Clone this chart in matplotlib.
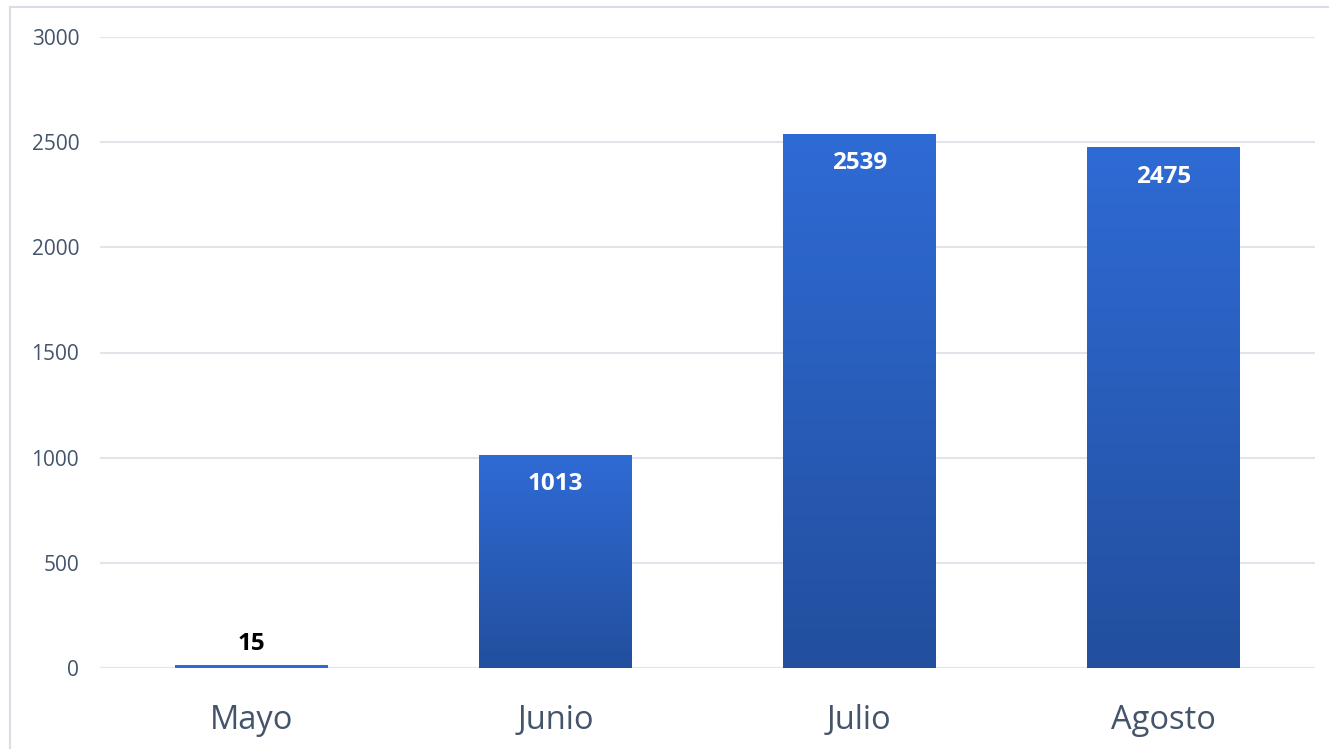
import numpy as np
import matplotlib.pyplot as plt
from matplotlib.patches import Rectangle
from matplotlib.colors import LinearSegmentedColormap

plt.rcParams["font.family"] = ["Open Sans", "DejaVu Sans"]

# data
months = ["Mayo", "Junio", "Julio", "Agosto"]
values = [15, 1013, 2539, 2475]
y_ticks = [0, 500, 1000, 1500, 2000, 2500, 3000]

TEXT = "#44546A"
GRID = "#E1E4EA"
TOP_BLUE = "#2F6BD5"
BOT_BLUE = "#224F9E"

fig = plt.figure(figsize=(13.29, 7.49), dpi=100)
W, H = 1329, 749
ax = fig.add_axes([100 / W, 1 - 668 / H, 1215 / W, 631 / H])

# light frame round the chart area
fig.patches.append(Rectangle((10 / W, -0.1), 1.2, 1 - 7 / H + 0.1,
                             transform=fig.transFigure, fill=False,
                             edgecolor="#D9DEE6", lw=1.5))

x = np.arange(len(months))
bars = ax.bar(x, values, width=0.503, color=TOP_BLUE, zorder=2)

cmap = LinearSegmentedColormap.from_list("blu", [BOT_BLUE, TOP_BLUE])
grad = np.linspace(0, 1, 256).reshape(-1, 1)
for b in bars:
    x0, w, h = b.get_x(), b.get_width(), b.get_height()
    if h < 100:
        continue  # tiny bar: flat colour
    im = ax.imshow(grad, cmap=cmap, aspect="auto", origin="lower",
                   extent=[x0, x0 + w, 0, h], zorder=3)
    im.set_clip_path(b)

for xi, v in zip(x, values):
    if v > 300:
        ax.text(xi, v - 140, f"{v}", ha="center", va="center",
                fontsize=17.5, fontweight="bold", color="white", zorder=4)
    else:
        ax.text(xi, v + 100, f"{v}", ha="center", va="center",
                fontsize=17.5, fontweight="bold", color="black", zorder=4)

ax.set_xlim(-0.5, 3.5)
ax.set_ylim(0, 3000)
ax.set_yticks(y_ticks)
ax.set_xticks(x)
ax.set_xticklabels(months)
ax.tick_params(axis="y", length=0, pad=15, labelsize=15, labelcolor=TEXT)
ax.tick_params(axis="x", length=0, pad=26, labelsize=23.5, labelcolor=TEXT)
ax.yaxis.grid(True, color=GRID, lw=1.5, zorder=0)
ax.set_axisbelow(True)
for s in ax.spines.values():
    s.set_visible(False)

fig.savefig("out.png", dpi=100)
